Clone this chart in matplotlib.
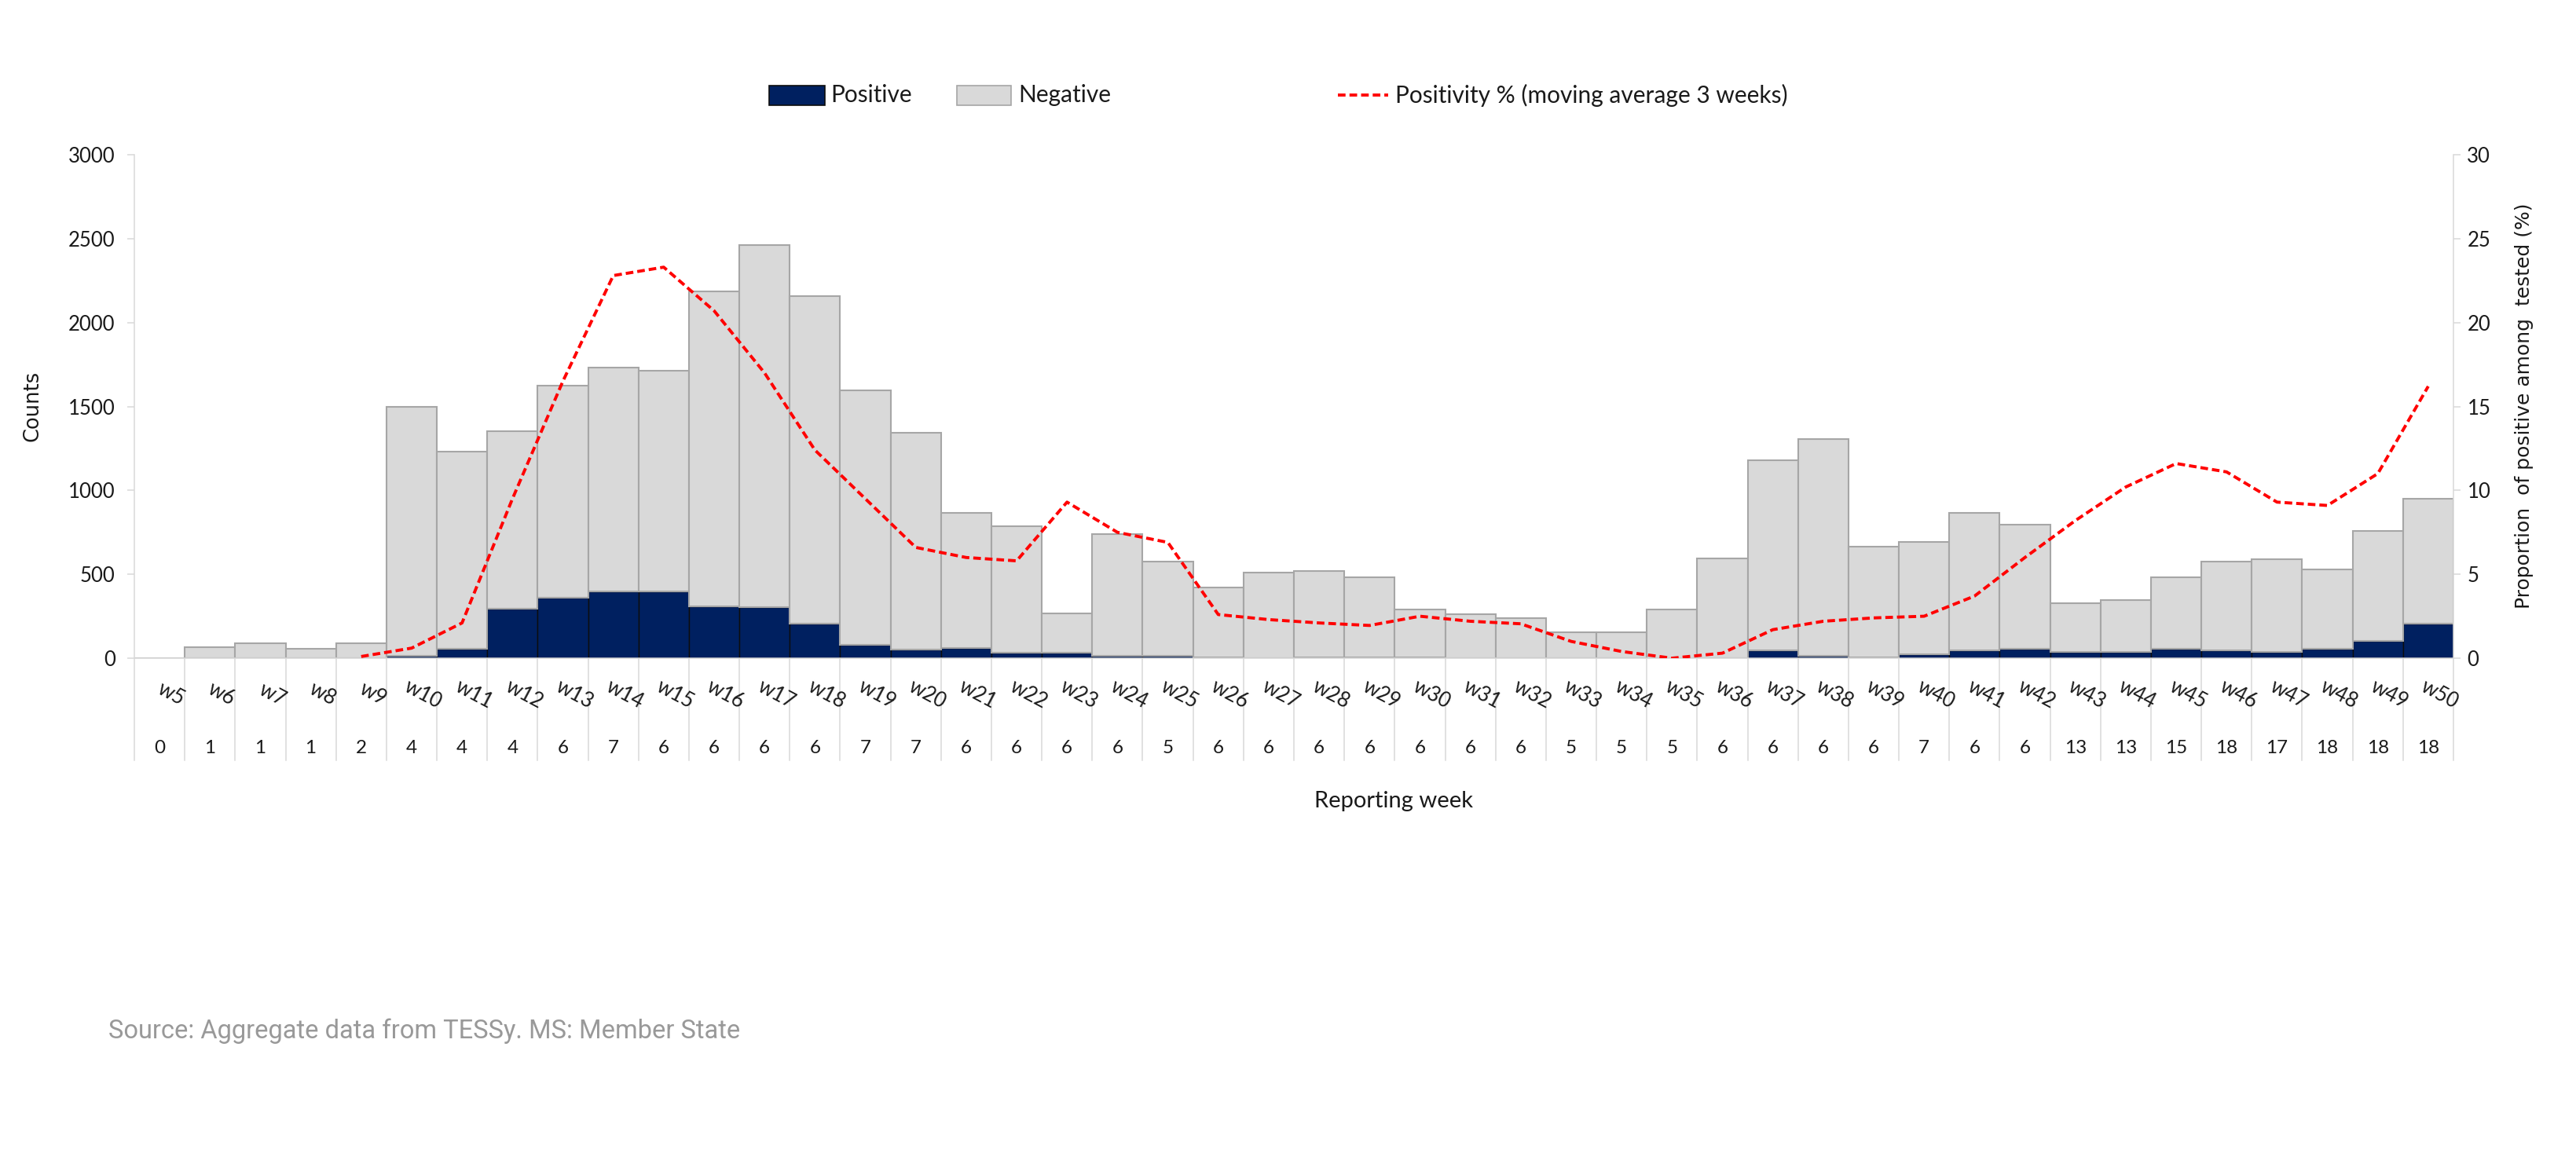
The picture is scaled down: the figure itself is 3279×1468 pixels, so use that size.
import matplotlib
matplotlib.use("Agg")
import matplotlib.pyplot as plt
import matplotlib.transforms as mtransforms
from matplotlib.patches import Rectangle
from matplotlib.lines import Line2D
import numpy as np

plt.rcParams["font.family"] = ["Lato", "DejaVu Sans"]

# reporting weeks and number of reporting countries
weeks = ["w5", "w6", "w7", "w8", "w9", "w10", "w11", "w12", "w13", "w14",
         "w15", "w16", "w17", "w18", "w19", "w20", "w21", "w22", "w23", "w24",
         "w25", "w26", "w27", "w28", "w29", "w30", "w31", "w32", "w33", "w34",
         "w35", "w36", "w37", "w38", "w39", "w40", "w41", "w42", "w43", "w44",
         "w45", "w46", "w47", "w48", "w49", "w50"]
countries = [0, 1, 1, 1, 2, 4, 4, 4, 6, 7, 6, 6, 6, 6, 7, 7, 6, 6, 6, 6, 5, 6, 6,
             6, 6, 6, 6, 6, 5, 5, 5, 6, 6, 6, 6, 7, 6, 6, 13, 13, 15, 18, 17, 18,
             18, 18]

# total tested and positive specimens per week
tested = [0, 65, 87, 57, 87, 1500, 1230, 1354, 1622, 1733, 1714, 2184, 2460,
          2156, 1595, 1345, 864, 788, 268, 741, 577, 421, 509, 520, 482, 289,
          261, 241, 154, 154, 289, 595, 1181, 1306, 663, 691, 864, 797, 327,
          346, 482, 575, 588, 529, 757, 950]
positive = [0, 0, 0, 0, 0, 14, 54, 295, 361, 400, 400, 311, 302, 205, 80, 52,
            61, 34, 34, 12, 12, 3, 2, 4, 3, 3, 2, 2, 1, 0, 0, 1, 45, 14, 3, 23,
            45, 54, 36, 36, 54, 45, 36, 54, 102, 205]

# positivity %, moving average over 3 weeks
positivity = [np.nan, np.nan, np.nan, np.nan, 0.1, 0.6, 2.1, 9.5, 16.5, 22.8,
              23.3, 20.7, 17.0, 12.4, 9.5, 6.6, 6.0, 5.8, 9.3, 7.5, 6.9, 2.6,
              2.3, 2.1, 1.95, 2.5, 2.2, 2.05, 1.0, 0.4, 0.0, 0.3, 1.7, 2.2, 2.4,
              2.5, 3.7, 6.0, 8.2, 10.2, 11.6, 11.1, 9.3, 9.1, 11.0, 16.2]

NAVY = "#002060"
GREY = "#D9D9D9"
GREY_EDGE = "#A6A6A6"
AXIS = "#D9D9D9"
RED = "#FF0000"
TXT = "#1a1a1a"

W, H = 3279, 1468
fig = plt.figure(figsize=(W / 100, H / 100), dpi=100)
L, R, T, B = 171, 3123, 197, 838
ax = fig.add_axes([L / W, 1 - B / H, (R - L) / W, (B - T) / H])

x = np.arange(len(weeks))
pos = np.array(positive)
neg = np.array(tested) - pos

pos_edges = ["#0d0d0d" if p > 0 else "none" for p in pos]
ax.bar(x, pos, width=1.0, color=NAVY, edgecolor=pos_edges, linewidth=1.0, zorder=2)
ax.bar(x, neg, bottom=pos, width=1.0, color=GREY, edgecolor=GREY_EDGE,
       linewidth=1.5, zorder=2)

ax.set_xlim(-0.5, len(weeks) - 0.5)
ax.set_ylim(0, 3000)
ax.set_yticks(np.arange(0, 3001, 500))
ax.set_xticks([])
ax.tick_params(axis="y", length=6.5, width=1.1, color=AXIS, labelsize=18.5,
               labelcolor=TXT, pad=11)
for s in ["top", "right"]:
    ax.spines[s].set_visible(False)
for s in ["left", "bottom"]:
    ax.spines[s].set_color(AXIS)
    ax.spines[s].set_linewidth(1.1)

# week labels, country counts and separators below the axis
trans = mtransforms.blended_transform_factory(ax.transData, ax.transAxes)
for i, (w, n) in enumerate(zip(weeks, countries)):
    ax.text(i + 0.23, -0.072, w, transform=trans, rotation=-28, ha="center",
            va="center", fontsize=18.5, color=TXT, clip_on=False)
    ax.text(i, -0.178, str(n), transform=trans, ha="center", va="center",
            fontsize=17.5, color=TXT, clip_on=False)
for i in range(len(weeks) + 1):
    ax.plot([i - 0.5, i - 0.5], [0, -0.203], transform=trans, color=AXIS,
            lw=1.1, clip_on=False, zorder=1)

ax2 = ax.twinx()
ax2.plot(x, positivity, color=RED, lw=2.8, dashes=(2.5, 1.3), zorder=3)
ax2.set_ylim(0, 30)
ax2.set_yticks(np.arange(0, 31, 5))
ax2.tick_params(axis="y", length=6.5, width=1.1, color=AXIS, labelsize=18.5,
                labelcolor=TXT, pad=6)
for s in ["top", "left", "bottom"]:
    ax2.spines[s].set_visible(False)
ax2.spines["right"].set_color(AXIS)
ax2.spines["right"].set_linewidth(1.1)

# axis titles
fig.text(41 / W, 1 - 517 / H, "Counts", rotation=90, ha="center", va="center",
         fontsize=18.5, family="DejaVu Sans", color=TXT)
fig.text(3213 / W, 1 - 517 / H, "Proportion  of positive among  tested (%)",
         rotation=90, ha="center", va="center", fontsize=18,
         family="DejaVu Sans", color=TXT)
fig.text(1774 / W, 1 - 1020 / H, "Reporting week", ha="center", va="center",
         fontsize=21, color=TXT)

# legend
ly = 1 - 121 / H
fig.patches.append(Rectangle((979 / W, 1 - 134 / H), 71 / W, 25 / H,
                             transform=fig.transFigure, facecolor=NAVY,
                             edgecolor="#0d0d0d", lw=1.2))
fig.text(1057 / W, ly, "Positive", va="center", fontsize=21.5, color=TXT)
fig.patches.append(Rectangle((1218 / W, 1 - 134 / H), 69 / W, 25 / H,
                             transform=fig.transFigure, facecolor=GREY,
                             edgecolor=GREY_EDGE, lw=1.2))
fig.text(1296 / W, ly, "Negative", va="center", fontsize=21.5, color=TXT)
fig.lines.append(Line2D([1703 / W, 1767 / W], [ly, ly], transform=fig.transFigure,
                        color=RED, lw=2.8, dashes=(2.5, 1.3)))
fig.text(1776 / W, ly, "Positivity % (moving average 3 weeks)", va="center",
         fontsize=21.5, color=TXT)

fig.text(138 / W, 1 - 1313 / H, "Source: Aggregate data from TESSy. MS: Member State",
         va="center", fontsize=23.5, family="Roboto", color="#999999")

fig.savefig("out.png", dpi=100, facecolor="white")
